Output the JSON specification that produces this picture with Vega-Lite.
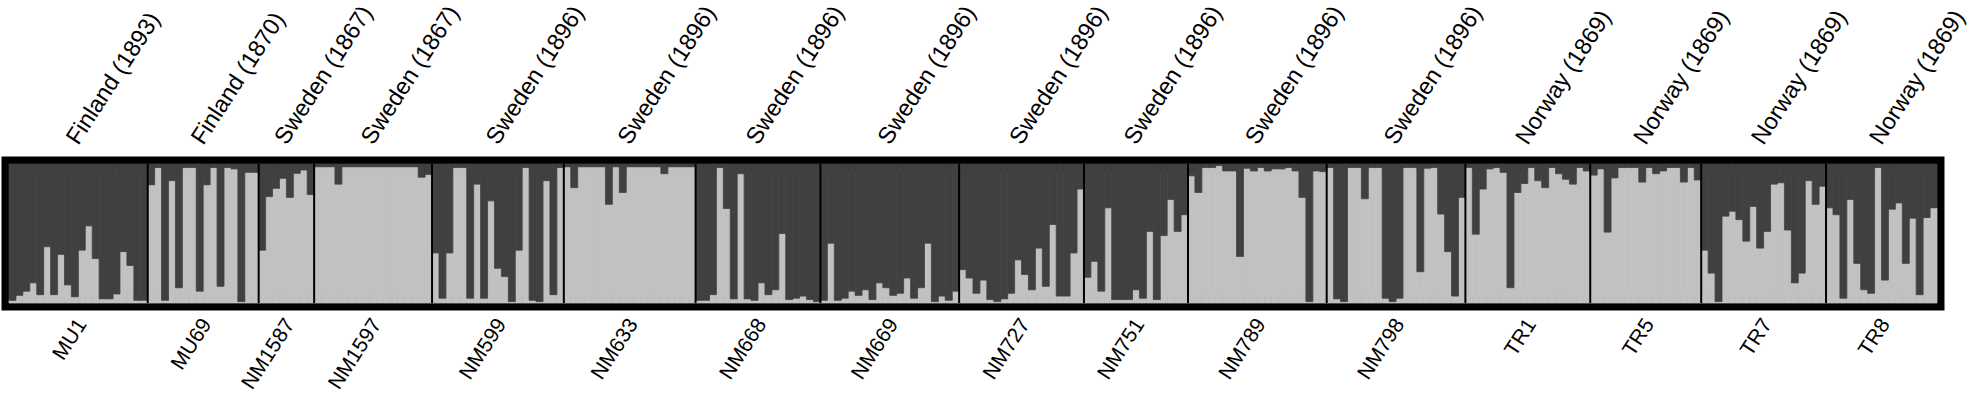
{
"$schema": "https://vega.github.io/schema/vega-lite/v6.json",
"width": 1928, "height": 139,
"autosize": {"type": "none"},
"padding": {"left": 9, "top": 164, "right": 36, "bottom": 103},
"background": "white",
"config": {"view": {"stroke": "black", "strokeWidth": 15}, "font": "Liberation Sans"},
"datasets": {
"pops": [
{"pop":"MU1","loc":"Finland (1893)"},{"pop":"MU69","loc":"Finland (1870)"},{"pop":"NM1587","loc":"Sweden (1867)"},{"pop":"NM1597","loc":"Sweden (1867)"},
{"pop":"NM599","loc":"Sweden (1896)"},{"pop":"NM633","loc":"Sweden (1896)"},{"pop":"NM668","loc":"Sweden (1896)"},{"pop":"NM669","loc":"Sweden (1896)"},
{"pop":"NM727","loc":"Sweden (1896)"},{"pop":"NM751","loc":"Sweden (1896)"},{"pop":"NM789","loc":"Sweden (1896)"},{"pop":"NM798","loc":"Sweden (1896)"},
{"pop":"TR1","loc":"Norway (1869)"},{"pop":"TR5","loc":"Norway (1869)"},{"pop":"TR7","loc":"Norway (1869)"},{"pop":"TR8","loc":"Norway (1869)"}
],
"ind": [
{"pop":"MU1","i":1,"q":0.02},{"pop":"MU1","i":2,"q":0.055},{"pop":"MU1","i":3,"q":0.085},{"pop":"MU1","i":4,"q":0.145},{"pop":"MU1","i":5,"q":0.06},
{"pop":"MU1","i":6,"q":0.405},{"pop":"MU1","i":7,"q":0.06},{"pop":"MU1","i":8,"q":0.35},{"pop":"MU1","i":9,"q":0.13},{"pop":"MU1","i":10,"q":0.045},
{"pop":"MU1","i":11,"q":0.38},{"pop":"MU1","i":12,"q":0.555},{"pop":"MU1","i":13,"q":0.32},{"pop":"MU1","i":14,"q":0.03},{"pop":"MU1","i":15,"q":0.03},
{"pop":"MU1","i":16,"q":0.065},{"pop":"MU1","i":17,"q":0.37},{"pop":"MU1","i":18,"q":0.27},{"pop":"MU1","i":19,"q":0.02},{"pop":"MU1","i":20,"q":0.02},
{"pop":"MU69","i":21,"q":0.85},{"pop":"MU69","i":22,"q":0.975},{"pop":"MU69","i":23,"q":0.02},{"pop":"MU69","i":24,"q":0.88},{"pop":"MU69","i":25,"q":0.11},
{"pop":"MU69","i":26,"q":0.975},{"pop":"MU69","i":27,"q":0.975},{"pop":"MU69","i":28,"q":0.085},{"pop":"MU69","i":29,"q":0.85},{"pop":"MU69","i":30,"q":0.975},
{"pop":"MU69","i":31,"q":0.12},{"pop":"MU69","i":32,"q":0.975},{"pop":"MU69","i":33,"q":0.965},{"pop":"MU69","i":34,"q":0.01},{"pop":"MU69","i":35,"q":0.94},{"pop":"MU69","i":36,"q":0.94},
{"pop":"NM1587","i":37,"q":0.38},{"pop":"NM1587","i":38,"q":0.765},{"pop":"NM1587","i":39,"q":0.825},{"pop":"NM1587","i":40,"q":0.897},{"pop":"NM1587","i":41,"q":0.76},
{"pop":"NM1587","i":42,"q":0.933},{"pop":"NM1587","i":43,"q":0.957},{"pop":"NM1587","i":44,"q":0.78},
{"pop":"NM1597","i":45,"q":0.98},{"pop":"NM1597","i":46,"q":0.98},{"pop":"NM1597","i":47,"q":0.98},{"pop":"NM1597","i":48,"q":0.855},{"pop":"NM1597","i":49,"q":0.98},
{"pop":"NM1597","i":50,"q":0.98},{"pop":"NM1597","i":51,"q":0.98},{"pop":"NM1597","i":52,"q":0.98},{"pop":"NM1597","i":53,"q":0.98},{"pop":"NM1597","i":54,"q":0.98},
{"pop":"NM1597","i":55,"q":0.98},{"pop":"NM1597","i":56,"q":0.98},{"pop":"NM1597","i":57,"q":0.98},{"pop":"NM1597","i":58,"q":0.98},{"pop":"NM1597","i":59,"q":0.98},
{"pop":"NM1597","i":60,"q":0.905},{"pop":"NM1597","i":61,"q":0.925},
{"pop":"NM599","i":62,"q":0.36},{"pop":"NM599","i":63,"q":0.035},{"pop":"NM599","i":64,"q":0.36},{"pop":"NM599","i":65,"q":0.975},{"pop":"NM599","i":66,"q":0.975},
{"pop":"NM599","i":67,"q":0.035},{"pop":"NM599","i":68,"q":0.855},{"pop":"NM599","i":69,"q":0.035},{"pop":"NM599","i":70,"q":0.735},{"pop":"NM599","i":71,"q":0.25},
{"pop":"NM599","i":72,"q":0.19},{"pop":"NM599","i":73,"q":0.01},{"pop":"NM599","i":74,"q":0.38},{"pop":"NM599","i":75,"q":0.975},{"pop":"NM599","i":76,"q":0.02},
{"pop":"NM599","i":77,"q":0.01},{"pop":"NM599","i":78,"q":0.88},{"pop":"NM599","i":79,"q":0.06},{"pop":"NM599","i":80,"q":0.975},
{"pop":"NM633","i":81,"q":0.98},{"pop":"NM633","i":82,"q":0.83},{"pop":"NM633","i":83,"q":0.98},{"pop":"NM633","i":84,"q":0.98},{"pop":"NM633","i":85,"q":0.98},
{"pop":"NM633","i":86,"q":0.98},{"pop":"NM633","i":87,"q":0.71},{"pop":"NM633","i":88,"q":0.98},{"pop":"NM633","i":89,"q":0.795},{"pop":"NM633","i":90,"q":0.98},
{"pop":"NM633","i":91,"q":0.98},{"pop":"NM633","i":92,"q":0.98},{"pop":"NM633","i":93,"q":0.98},{"pop":"NM633","i":94,"q":0.98},{"pop":"NM633","i":95,"q":0.93},
{"pop":"NM633","i":96,"q":0.98},{"pop":"NM633","i":97,"q":0.98},{"pop":"NM633","i":98,"q":0.98},{"pop":"NM633","i":99,"q":0.98},
{"pop":"NM668","i":100,"q":0.02},{"pop":"NM668","i":101,"q":0.02},{"pop":"NM668","i":102,"q":0.06},{"pop":"NM668","i":103,"q":0.975},{"pop":"NM668","i":104,"q":0.68},
{"pop":"NM668","i":105,"q":0.03},{"pop":"NM668","i":106,"q":0.93},{"pop":"NM668","i":107,"q":0.03},{"pop":"NM668","i":108,"q":0.02},{"pop":"NM668","i":109,"q":0.145},
{"pop":"NM668","i":110,"q":0.06},{"pop":"NM668","i":111,"q":0.095},{"pop":"NM668","i":112,"q":0.5},{"pop":"NM668","i":113,"q":0.025},{"pop":"NM668","i":114,"q":0.035},
{"pop":"NM668","i":115,"q":0.05},{"pop":"NM668","i":116,"q":0.025},{"pop":"NM668","i":117,"q":0.01},
{"pop":"NM669","i":118,"q":0.02},{"pop":"NM669","i":119,"q":0.43},{"pop":"NM669","i":120,"q":0.02},{"pop":"NM669","i":121,"q":0.035},{"pop":"NM669","i":122,"q":0.085},
{"pop":"NM669","i":123,"q":0.055},{"pop":"NM669","i":124,"q":0.095},{"pop":"NM669","i":125,"q":0.025},{"pop":"NM669","i":126,"q":0.145},{"pop":"NM669","i":127,"q":0.11},
{"pop":"NM669","i":128,"q":0.055},{"pop":"NM669","i":129,"q":0.07},{"pop":"NM669","i":130,"q":0.18},{"pop":"NM669","i":131,"q":0.035},{"pop":"NM669","i":132,"q":0.11},
{"pop":"NM669","i":133,"q":0.43},{"pop":"NM669","i":134,"q":0.01},{"pop":"NM669","i":135,"q":0.05},{"pop":"NM669","i":136,"q":0.02},{"pop":"NM669","i":137,"q":0.085},
{"pop":"NM727","i":138,"q":0.24},{"pop":"NM727","i":139,"q":0.18},{"pop":"NM727","i":140,"q":0.07},{"pop":"NM727","i":141,"q":0.165},{"pop":"NM727","i":142,"q":0.025},
{"pop":"NM727","i":143,"q":0.01},{"pop":"NM727","i":144,"q":0.03},{"pop":"NM727","i":145,"q":0.07},{"pop":"NM727","i":146,"q":0.31},{"pop":"NM727","i":147,"q":0.205},
{"pop":"NM727","i":148,"q":0.095},{"pop":"NM727","i":149,"q":0.395},{"pop":"NM727","i":150,"q":0.12},{"pop":"NM727","i":151,"q":0.565},{"pop":"NM727","i":152,"q":0.05},
{"pop":"NM727","i":153,"q":0.05},{"pop":"NM727","i":154,"q":0.36},{"pop":"NM727","i":155,"q":0.82},
{"pop":"NM751","i":156,"q":0.185},{"pop":"NM751","i":157,"q":0.3},{"pop":"NM751","i":158,"q":0.085},{"pop":"NM751","i":159,"q":0.685},{"pop":"NM751","i":160,"q":0.025},
{"pop":"NM751","i":161,"q":0.025},{"pop":"NM751","i":162,"q":0.025},{"pop":"NM751","i":163,"q":0.095},{"pop":"NM751","i":164,"q":0.035},{"pop":"NM751","i":165,"q":0.515},
{"pop":"NM751","i":166,"q":0.025},{"pop":"NM751","i":167,"q":0.485},{"pop":"NM751","i":168,"q":0.745},{"pop":"NM751","i":169,"q":0.515},{"pop":"NM751","i":170,"q":0.635},
{"pop":"NM789","i":171,"q":0.915},{"pop":"NM789","i":172,"q":0.795},{"pop":"NM789","i":173,"q":0.975},{"pop":"NM789","i":174,"q":0.975},{"pop":"NM789","i":175,"q":0.99},
{"pop":"NM789","i":176,"q":0.95},{"pop":"NM789","i":177,"q":0.95},{"pop":"NM789","i":178,"q":0.335},{"pop":"NM789","i":179,"q":0.97},{"pop":"NM789","i":180,"q":0.95},
{"pop":"NM789","i":181,"q":0.975},{"pop":"NM789","i":182,"q":0.95},{"pop":"NM789","i":183,"q":0.965},{"pop":"NM789","i":184,"q":0.965},{"pop":"NM789","i":185,"q":0.975},
{"pop":"NM789","i":186,"q":0.95},{"pop":"NM789","i":187,"q":0.76},{"pop":"NM789","i":188,"q":0.01},{"pop":"NM789","i":189,"q":0.95},{"pop":"NM789","i":190,"q":0.945},
{"pop":"NM798","i":191,"q":0.975},{"pop":"NM798","i":192,"q":0.03},{"pop":"NM798","i":193,"q":0.01},{"pop":"NM798","i":194,"q":0.975},{"pop":"NM798","i":195,"q":0.975},
{"pop":"NM798","i":196,"q":0.75},{"pop":"NM798","i":197,"q":0.975},{"pop":"NM798","i":198,"q":0.975},{"pop":"NM798","i":199,"q":0.035},{"pop":"NM798","i":200,"q":0.01},
{"pop":"NM798","i":201,"q":0.035},{"pop":"NM798","i":202,"q":0.975},{"pop":"NM798","i":203,"q":0.975},{"pop":"NM798","i":204,"q":0.225},{"pop":"NM798","i":205,"q":0.97},
{"pop":"NM798","i":206,"q":0.975},{"pop":"NM798","i":207,"q":0.64},{"pop":"NM798","i":208,"q":0.37},{"pop":"NM798","i":209,"q":0.05},{"pop":"NM798","i":210,"q":0.76},
{"pop":"TR1","i":211,"q":0.975},{"pop":"TR1","i":212,"q":0.495},{"pop":"TR1","i":213,"q":0.82},{"pop":"TR1","i":214,"q":0.965},{"pop":"TR1","i":215,"q":0.975},
{"pop":"TR1","i":216,"q":0.94},{"pop":"TR1","i":217,"q":0.11},{"pop":"TR1","i":218,"q":0.795},{"pop":"TR1","i":219,"q":0.86},{"pop":"TR1","i":220,"q":0.975},
{"pop":"TR1","i":221,"q":0.88},{"pop":"TR1","i":222,"q":0.83},{"pop":"TR1","i":223,"q":0.975},{"pop":"TR1","i":224,"q":0.93},{"pop":"TR1","i":225,"q":0.89},
{"pop":"TR1","i":226,"q":0.855},{"pop":"TR1","i":227,"q":0.975},{"pop":"TR1","i":228,"q":0.95},
{"pop":"TR5","i":229,"q":0.92},{"pop":"TR5","i":230,"q":0.965},{"pop":"TR5","i":231,"q":0.51},{"pop":"TR5","i":232,"q":0.9},{"pop":"TR5","i":233,"q":0.975},
{"pop":"TR5","i":234,"q":0.975},{"pop":"TR5","i":235,"q":0.975},{"pop":"TR5","i":236,"q":0.87},{"pop":"TR5","i":237,"q":0.975},{"pop":"TR5","i":238,"q":0.93},
{"pop":"TR5","i":239,"q":0.95},{"pop":"TR5","i":240,"q":0.975},{"pop":"TR5","i":241,"q":0.975},{"pop":"TR5","i":242,"q":0.87},{"pop":"TR5","i":243,"q":0.975},{"pop":"TR5","i":244,"q":0.885},
{"pop":"TR7","i":245,"q":0.38},{"pop":"TR7","i":246,"q":0.215},{"pop":"TR7","i":247,"q":0.01},{"pop":"TR7","i":248,"q":0.625},{"pop":"TR7","i":249,"q":0.66},
{"pop":"TR7","i":250,"q":0.6},{"pop":"TR7","i":251,"q":0.445},{"pop":"TR7","i":252,"q":0.695},{"pop":"TR7","i":253,"q":0.395},{"pop":"TR7","i":254,"q":0.515},
{"pop":"TR7","i":255,"q":0.855},{"pop":"TR7","i":256,"q":0.865},{"pop":"TR7","i":257,"q":0.525},{"pop":"TR7","i":258,"q":0.145},{"pop":"TR7","i":259,"q":0.215},
{"pop":"TR7","i":260,"q":0.88},{"pop":"TR7","i":261,"q":0.71},{"pop":"TR7","i":262,"q":0.84},
{"pop":"TR8","i":263,"q":0.685},{"pop":"TR8","i":264,"q":0.635},{"pop":"TR8","i":265,"q":0.035},{"pop":"TR8","i":266,"q":0.745},{"pop":"TR8","i":267,"q":0.285},
{"pop":"TR8","i":268,"q":0.095},{"pop":"TR8","i":269,"q":0.07},{"pop":"TR8","i":270,"q":0.975},{"pop":"TR8","i":271,"q":0.165},{"pop":"TR8","i":272,"q":0.675},
{"pop":"TR8","i":273,"q":0.72},{"pop":"TR8","i":274,"q":0.285},{"pop":"TR8","i":275,"q":0.61},{"pop":"TR8","i":276,"q":0.06},{"pop":"TR8","i":277,"q":0.615},{"pop":"TR8","i":278,"q":0.685}
]
},
"data": {"name": "ind"},
"layer": [
{"layer": [
{"mark": {"type": "bar", "color": "#c1c1c1", "stroke": "#c1c1c1", "strokeWidth": 0.8},
 "encoding": {"x": {"field": "i", "type": "ordinal", "scale": {"paddingInner": 0, "paddingOuter": 0}, "axis": null},
 "y": {"field": "q", "type": "quantitative", "scale": {"domain": [0, 1], "nice": false}, "axis": null}}},
{"mark": {"type": "bar", "color": "#404040", "stroke": "#404040", "strokeWidth": 0.8},
 "encoding": {"x": {"field": "i", "type": "ordinal", "scale": {"paddingInner": 0, "paddingOuter": 0}, "axis": null},
 "y": {"field": "q", "type": "quantitative", "scale": {"domain": [0, 1], "nice": false}, "axis": null}, "y2": {"datum": 1}}}
]},
{"transform": [
 {"aggregate": [{"op": "min", "field": "i", "as": "lo"}, {"op": "max", "field": "i", "as": "hi"}], "groupby": ["pop"]},
 {"lookup": "pop", "from": {"data": {"name": "pops"}, "key": "pop", "fields": ["loc"]}},
 {"calculate": "datum.lo - 1", "as": "start"},
 {"calculate": "(datum.lo - 1 + datum.hi) / 2", "as": "mid"}
],
"layer": [
{"transform": [{"filter": "datum.lo > 1"}],
 "mark": {"type": "rule", "color": "black", "strokeWidth": 2},
 "encoding": {"x": {"field": "start", "type": "quantitative", "scale": {"domain": [0, 278], "nice": false, "zero": false}, "axis": null}}},
{"mark": {"type": "text", "angle": -57, "align": "left", "baseline": "alphabetic", "fontSize": 23.5, "yOffset": -18, "xOffset": 0, "color": "black"},
 "encoding": {"x": {"field": "mid", "type": "quantitative", "scale": {"domain": [0, 278], "nice": false, "zero": false}, "axis": null},
 "y": {"datum": 1, "type": "quantitative"}, "text": {"field": "loc"}}},
{"mark": {"type": "text", "angle": -57, "align": "right", "baseline": "middle", "fontSize": 21, "yOffset": 18, "xOffset": 4, "color": "black"},
 "encoding": {"x": {"field": "mid", "type": "quantitative", "scale": {"domain": [0, 278], "nice": false, "zero": false}, "axis": null},
 "y": {"datum": 0, "type": "quantitative"}, "text": {"field": "pop"}}}
]}
],
"resolve": {"scale": {"x": "independent"}}
}
